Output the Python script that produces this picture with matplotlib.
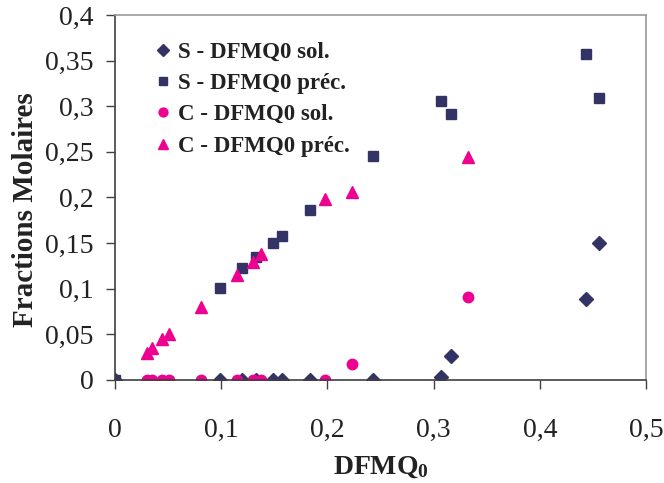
import matplotlib
matplotlib.use("Agg")
import matplotlib.pyplot as plt

plt.rcParams['font.family'] = ['Liberation Serif', 'DejaVu Serif']
plt.rcParams['mathtext.fontset'] = 'custom'
plt.rcParams['mathtext.rm'] = 'Liberation Serif'
plt.rcParams['mathtext.bf'] = 'Liberation Serif:bold'

# S series: solution and precipitate fractions
s_x = [0.0, 0.099, 0.120, 0.1325, 0.149, 0.157, 0.184, 0.243, 0.307, 0.316, 0.443, 0.456]
s_sol = [0.0, 0.0, 0.0, 0.0, 0.0, 0.0, 0.0, 0.0, 0.0035, 0.026, 0.089, 0.150]
s_prec = [0.0, 0.1005, 0.123, 0.135, 0.150, 0.158, 0.186, 0.245, 0.306, 0.292, 0.357, 0.309]

# C series: solution and precipitate fractions
c_x = [0.030, 0.035, 0.044, 0.051, 0.081, 0.115, 0.130, 0.137, 0.198, 0.223, 0.332]
c_sol = [0.0, 0.0, 0.0, 0.0, 0.0, 0.0, 0.0, 0.0, 0.0, 0.017, 0.091]
c_prec = [0.030, 0.035, 0.045, 0.050, 0.080, 0.115, 0.129, 0.138, 0.198, 0.206, 0.244]

xticks = [0.0, 0.1, 0.2, 0.3, 0.4, 0.5]
xtick_labels = ['0', '0,1', '0,2', '0,3', '0,4', '0,5']
yticks = [0.0, 0.05, 0.10, 0.15, 0.20, 0.25, 0.30, 0.35, 0.40]
ytick_labels = ['0', '0,05', '0,1', '0,15', '0,2', '0,25', '0,3', '0,35', '0,4']

navy = '#333366'
pink = '#EE0090'

fig = plt.figure(figsize=(6.64, 4.83), dpi=100)
ax = fig.add_axes([0.1732, 0.2133, 0.7998, 0.7557])

ax.plot(s_x, s_sol, linestyle='none', marker='D', ms=7.5, color=navy,
        mec=navy, label='S - DFMQ0 sol.', zorder=3)
ax.plot(s_x, s_prec, linestyle='none', marker='s', ms=7.5, color=navy,
        mec=navy, label='S - DFMQ0 préc.', zorder=3)
ax.plot(c_x, c_sol, linestyle='none', marker='o', ms=7.5, color=pink,
        mec=pink, label='C - DFMQ0 sol.', zorder=3)
ax.plot(c_x, c_prec, linestyle='none', marker='^', ms=8.5, color=pink,
        mec=pink, label='C - DFMQ0 préc.', zorder=3)

ax.set_xlim(0, 0.5)
ax.set_ylim(0, 0.4)
ax.set_xticks(xticks)
ax.set_xticklabels(xtick_labels)
ax.set_yticks(yticks)
ax.set_yticklabels(ytick_labels)
ax.tick_params(axis='both', direction='out', length=6.5, width=1,
               color='#404040', labelsize=20, labelcolor='#222222')
ax.tick_params(axis='x', pad=21)
ax.tick_params(axis='y', pad=9)

for side in ('left', 'bottom'):
    ax.spines[side].set_color('#404040')
    ax.spines[side].set_linewidth(1.2)
for side in ('top', 'right'):
    ax.spines[side].set_color('#9a9a9a')
    ax.spines[side].set_linewidth(1.2)
for s in ax.spines.values():
    s.set_zorder(4)

ax.set_xlabel(r'$\mathbf{DFMQ_0}$', fontsize=20, color='#222222')
ax.xaxis.set_label_coords(0.5, -0.205)
ax.set_ylabel('Fractions Molaires', fontsize=21, fontweight='bold',
              color='#222222')
ax.yaxis.set_label_coords(-0.143, 0.468)

leg = ax.legend(loc='upper left', bbox_to_anchor=(0.052, 0.965), frameon=False,
                prop={'family': 'Liberation Serif', 'weight': 'bold', 'size': 16.5},
                handlelength=0.6, handletextpad=0.35, labelspacing=0.45,
                borderaxespad=0.2, markerscale=0.85)
for t in leg.get_texts():
    t.set_color('#222222')

fig.savefig('out.png', dpi=100)
